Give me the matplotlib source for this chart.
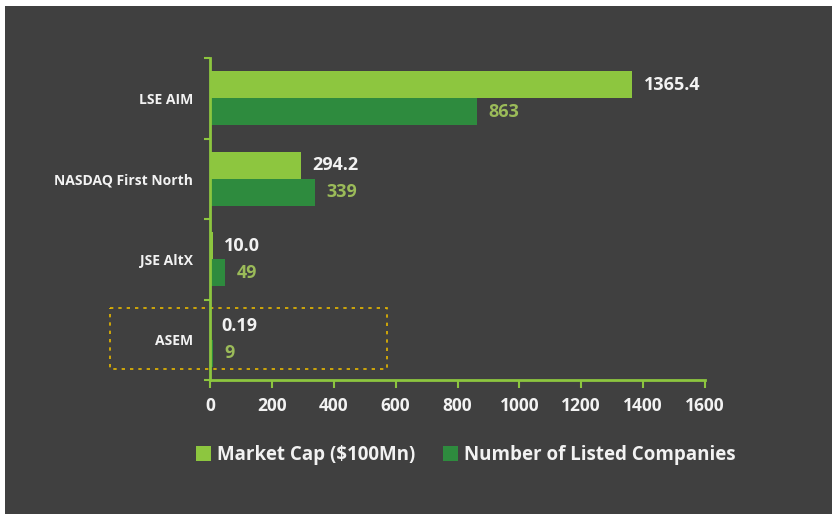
import matplotlib.pyplot as plt
from matplotlib.patches import Rectangle, Patch

# Data
exchanges = ["LSE AIM", "NASDAQ First North", "JSE AltX", "ASEM"]
market_cap = [1365.4, 294.2, 10.0, 0.19]
market_cap_labels = ["1365.4", "294.2", "10.0", "0.19"]
companies = [863, 339, 49, 9]
x_ticks = [0, 200, 400, 600, 800, 1000, 1200, 1400, 1600]

BG = "#404040"
LIME = "#8DC63F"
DARK = "#2E8B3E"
OLIVE = "#9BBB59"
TEXT = "#F2F2F2"

plt.rcParams['font.family'] = ['Open Sans', 'DejaVu Sans']

fig = plt.figure(figsize=(8.32, 5.14), dpi=100)
fig.patch.set_facecolor("white")
fig.patches.append(Rectangle((5 / 832, 0), 1, 1 - 6 / 514, transform=fig.transFigure,
                             facecolor=BG, edgecolor="none", zorder=-10))

ax = fig.add_axes([210 / 832, 1 - 380 / 514, 495 / 832, 322 / 514])
ax.set_facecolor(BG)

pos = list(range(len(exchanges)))
h = 0.335
ax.barh([p - h / 2 for p in pos], market_cap, height=h, color=LIME)
ax.barh([p + h / 2 for p in pos], companies, height=h, color=DARK)

for p, v, lab in zip(pos, market_cap, market_cap_labels):
    ax.annotate(lab, (v, p - h / 2), xytext=(8, 0), textcoords="offset points",
                va="center", ha="left", color=TEXT, fontsize=13, fontweight="bold")
for p, v in zip(pos, companies):
    ax.annotate(str(v), (v, p + h / 2), xytext=(8, 0), textcoords="offset points",
                va="center", ha="left", color=OLIVE, fontsize=13, fontweight="bold")

ax.set_xlim(0, 1600)
ax.set_ylim(3.5, -0.5)
ax.set_xticks(x_ticks)
ax.set_xticklabels([str(t) for t in x_ticks], color=TEXT, fontsize=12.5, fontweight="bold")
ax.set_yticks([-0.5, 0.5, 1.5, 2.5, 3.5])
ax.set_yticklabels([])
ax.set_yticks(pos, minor=True)
ax.set_yticklabels(exchanges, minor=True, color=TEXT, fontsize=10, fontweight="bold")
ax.tick_params(axis="y", which="minor", length=0, pad=12)
ax.tick_params(axis="y", which="major", length=4, width=1.5, color=LIME, direction="out")
ax.tick_params(axis="x", length=6, width=1.5, color=LIME, pad=6)

for side in ["top", "right"]:
    ax.spines[side].set_visible(False)
for side in ["left", "bottom"]:
    ax.spines[side].set_color(LIME)
    ax.spines[side].set_linewidth(2)

# dotted highlight around ASEM
ax.add_patch(Rectangle((-323, 2.6), 896, 0.76, fill=False, edgecolor="#E6B800",
                       linestyle=(0, (2, 3)), linewidth=1.2, clip_on=False))

handles = [Patch(facecolor=LIME), Patch(facecolor=DARK)]
fig.legend(handles, ["Market Cap ($100Mn)", "Number of Listed Companies"], ncol=2,
           loc="center", bbox_to_anchor=(466 / 832, 1 - 455 / 514), frameon=False,
           handlelength=0.8, handleheight=0.8, handletextpad=0.3, columnspacing=1.5,
           prop={"size": 13.5, "weight": "bold"}, labelcolor=TEXT)

fig.savefig("out.png", dpi=100, facecolor=fig.get_facecolor())
